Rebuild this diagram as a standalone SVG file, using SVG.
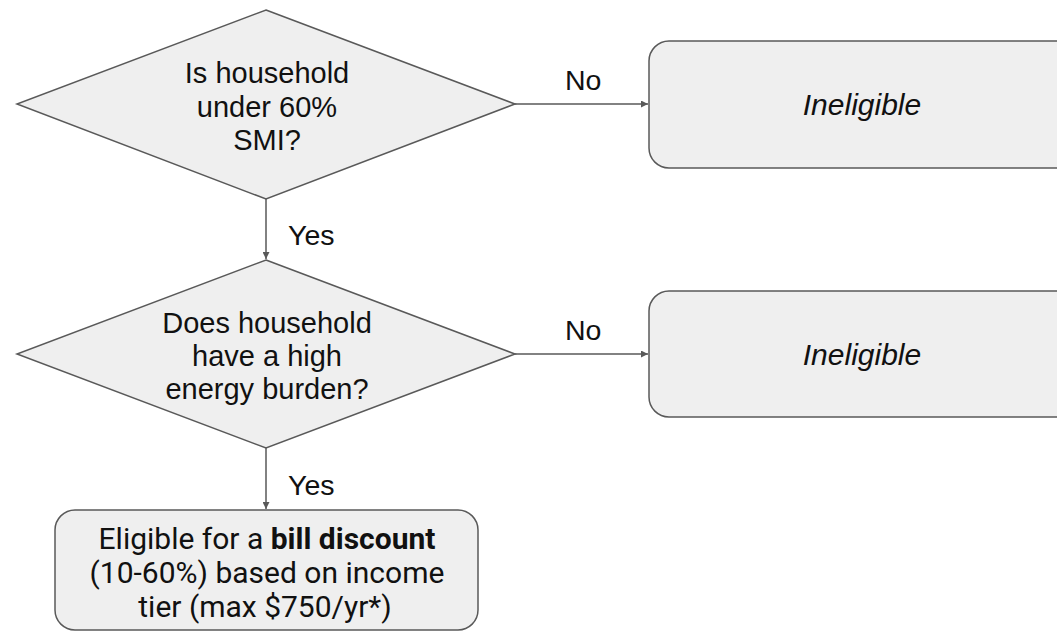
<svg xmlns="http://www.w3.org/2000/svg" width="1057" height="632" viewBox="0 0 1057 632">
<style>
.shape{fill:#efefef;stroke:#595959;stroke-width:1.5}
.conn{stroke:#595959;stroke-width:1.5;fill:none}
.t{font-family:"Liberation Sans",Arial,sans-serif;font-size:29px;fill:#111;text-anchor:middle}
.lbl{font-family:"Liberation Sans",Arial,sans-serif;font-size:28.5px;fill:#111}
.it{font-style:italic;font-size:30px}
.r{font-family:Roboto,"Liberation Sans",sans-serif;font-size:30px;fill:#111;text-anchor:middle}
</style>
<defs>
<marker id="ah" viewBox="0 0 10 10" refX="10" refY="5" markerWidth="7" markerHeight="7" markerUnits="userSpaceOnUse" orient="auto">
<path d="M0,0 L10,5 L0,10 z" fill="#595959"/>
</marker>
</defs>
<rect width="1057" height="632" fill="#ffffff"/>
<g id="connectors">
<line class="conn" x1="515" y1="104" x2="648" y2="104" marker-end="url(#ah)"/>
<line class="conn" x1="515" y1="354" x2="648" y2="354" marker-end="url(#ah)"/>
<line class="conn" x1="266" y1="199" x2="266" y2="259" marker-end="url(#ah)"/>
<line class="conn" x1="266" y1="448" x2="266" y2="509" marker-end="url(#ah)"/>
<text class="lbl" x="565" y="90">No</text>
<text class="lbl" x="565" y="340">No</text>
<text class="lbl" x="288" y="245">Yes</text>
<text class="lbl" x="288" y="495">Yes</text>
</g>
<g id="q1">
<polygon class="shape" points="266,10 515,104 266,199 17,104"/>
<text class="t" x="267" y="83">Is household</text>
<text class="t" x="267" y="117">under 60%</text>
<text class="t" x="267" y="150">SMI?</text>
</g>
<g id="q2">
<polygon class="shape" points="266,260 515,354 266,448 17,354"/>
<text class="t" x="267" y="333">Does household</text>
<text class="t" x="267" y="366">have a high</text>
<text class="t" x="267" y="399">energy burden?</text>
</g>
<g id="inel1">
<rect class="shape" x="649" y="41" width="430" height="127" rx="20"/>
<text class="t it" x="862" y="115">Ineligible</text>
</g>
<g id="inel2">
<rect class="shape" x="649" y="291" width="430" height="126" rx="20"/>
<text class="t it" x="862" y="365">Ineligible</text>
</g>
<g id="eligible">
<rect class="shape" x="55" y="510" width="423" height="120" rx="20"/>
<text class="r" x="267" y="549">Eligible for a <tspan font-weight="bold">bill discount</tspan></text>
<text class="r" x="267" y="583">(10-60%) based on income</text>
<text class="r" x="265" y="617">tier (max $750/yr*)</text>
</g>
</svg>
